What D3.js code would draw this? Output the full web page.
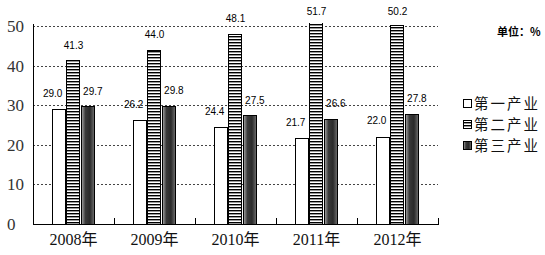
<!DOCTYPE html>
<html>
<head>
<meta charset="utf-8">
<script src="https://cdn.jsdelivr.net/npm/d3@7"></script>
<style>
  body { margin: 0; background: #fff; }
  svg { display: block; }
</style>
</head>
<body>
<div id="chart"></div>
<script>
// chart data
var years = ['2008年', '2009年', '2010年', '2011年', '2012年']
var seriesNames = ['第一产业', '第二产业', '第三产业']
var primary = [29.0, 26.2, 24.4, 21.7, 22.0]
var secondary = [41.3, 44.0, 48.1, 51.7, 50.2]
var tertiary = [29.7, 29.8, 27.5, 26.6, 27.8]
var yTicks = [0, 10, 20, 30, 40, 50]

var width = 545, height = 255
// plot box (window.top is reserved, so prefixed names)
var plotLeft = 33, plotRight = 438, plotBottom = 224, plotTop = 26

var svg = d3.select('#chart').append('svg')
    .attr('width', width)
    .attr('height', height)

var defs = svg.append('defs')

// horizontal stripes for the second series
var pat = defs.append('pattern')
    .attr('id', 'stripes')
    .attr('patternUnits', 'userSpaceOnUse')
    .attr('width', 6).attr('height', 3)
pat.append('rect').attr('width', 6).attr('height', 3).attr('fill', '#fff')
pat.append('rect').attr('width', 6).attr('height', 1.4).attr('fill', '#000')

// dark cylinder-ish gradient for the third series
var grad = defs.append('linearGradient')
    .attr('id', 'dark')
    .attr('x1', '0%').attr('x2', '100%').attr('y1', '0%').attr('y2', '0%')
grad.append('stop').attr('offset', '0%').attr('stop-color', '#a8a8a8')
grad.append('stop').attr('offset', '30%').attr('stop-color', '#3a3a3a')
grad.append('stop').attr('offset', '65%').attr('stop-color', '#2a2a2a')
grad.append('stop').attr('offset', '100%').attr('stop-color', '#707070')

defs.append('clipPath').attr('id', 'plotclip')
    .append('rect').attr('x', plotLeft).attr('y', plotTop - 3)
    .attr('width', plotRight - plotLeft).attr('height', plotBottom - plotTop + 3)

var fills = ['#fff', 'url(#stripes)', 'url(#dark)']

var x0 = d3.scaleBand().domain(years).range([plotLeft, plotRight])
var x1 = d3.scaleBand().domain(seriesNames).range([0, 43])
var groupOffset = (x0.bandwidth() - 43) / 2
var y = d3.scaleLinear().domain([0, 50]).range([plotBottom, plotTop])

// gridlines (dotted)
svg.append('g')
    .selectAll('line')
    .data(yTicks.filter(function (d) { return d > 0 }))
    .enter()
    .append('line')
    .attr('x1', plotLeft).attr('x2', plotRight)
    .attr('y1', function (d) { return Math.round(y(d)) + 0.5 })
    .attr('y2', function (d) { return Math.round(y(d)) + 0.5 })
    .attr('stroke', '#444')
    .attr('stroke-width', 1)
    .attr('stroke-dasharray', '2,2')

// y tick labels
svg.append('g')
    .selectAll('text')
    .data(yTicks)
    .enter()
    .append('text')
    .attr('x', 7)
    .attr('y', function (d) { return y(d) })
    .attr('dy', '0.35em')
    .style('font-family', '"Liberation Serif", "DejaVu Serif", serif')
    .style('font-size', '17px')
    .style('fill', '#333')
    .text(function (d) { return d })

// bars
var rows = years.map(function (yr, i) {
    return { year: yr, values: [primary[i], secondary[i], tertiary[i]] }
})

var groups = svg.append('g')
    .attr('clip-path', 'url(#plotclip)')
    .selectAll('g')
    .data(rows)
    .enter()
    .append('g')
    .attr('transform', function (d) { return 'translate(' + (x0(d.year) + groupOffset) + ',0)' })

groups.selectAll('rect')
    .data(function (d) { return d.values.map(function (v, k) { return { k: k, v: v } }) })
    .enter()
    .append('rect')
    .attr('x', function (d) { return Math.round(x1(seriesNames[d.k])) + 0.5 })
    .attr('y', function (d) { return Math.round(y(d.v)) + 0.5 })
    .attr('width', Math.round(x1.bandwidth()) - 1)
    .attr('height', function (d) { return plotBottom - Math.round(y(d.v)) })
    .attr('fill', function (d) { return fills[d.k] })
    .attr('stroke', '#000')
    .attr('stroke-width', 1)

// value labels
var labelDx = [-4, 0, 5]
var labelDy = [-16, -15, -15]
var labelAnchor = ['end', 'middle', 'middle']
var labelGroups = svg.append('g')
    .selectAll('g')
    .data(rows)
    .enter()
    .append('g')
    .attr('transform', function (d) { return 'translate(' + (x0(d.year) + groupOffset) + ',0)' })

labelGroups.selectAll('text')
    .data(function (d) { return d.values.map(function (v, k) { return { k: k, v: v } }) })
    .enter()
    .append('text')
    .attr('x', function (d) {
        var bx = x1(seriesNames[d.k])
        if (d.k === 0) return bx + x1.bandwidth() + labelDx[0]
        return bx + x1.bandwidth() / 2 + labelDx[d.k]
    })
    .attr('y', function (d) { return Math.max(y(d.v), plotTop) + labelDy[d.k] })
    .attr('dy', '0.35em')
    .attr('text-anchor', function (d) { return labelAnchor[d.k] })
    .style('font-family', '"Liberation Sans", Arial, sans-serif')
    .style('font-size', '10px')
    .style('fill', '#000')
    .text(function (d) { return d.v.toFixed(1) })

// axes lines
svg.append('line')
    .attr('x1', plotLeft + 0.5).attr('x2', plotLeft + 0.5)
    .attr('y1', plotTop - 2).attr('y2', plotBottom)
    .attr('stroke', '#000')
svg.append('line')
    .attr('x1', plotLeft).attr('x2', plotRight + 1)
    .attr('y1', plotBottom + 0.5).attr('y2', plotBottom + 0.5)
    .attr('stroke', '#000')

// x ticks at category boundaries (pointing up)
var boundaries = years.map(function (d) { return x0(d) + x0.bandwidth() })
svg.append('g')
    .selectAll('line')
    .data(boundaries)
    .enter()
    .append('line')
    .attr('x1', function (d) { return Math.round(d) + 0.5 })
    .attr('x2', function (d) { return Math.round(d) + 0.5 })
    .attr('y1', plotBottom - 6).attr('y2', plotBottom)
    .attr('stroke', '#000')

// x labels
svg.append('g')
    .selectAll('text')
    .data(years)
    .enter()
    .append('text')
    .attr('x', function (d) { return x0(d) + x0.bandwidth() / 2 })
    .attr('y', 239)
    .attr('dy', '0.35em')
    .attr('text-anchor', 'middle')
    .style('font-family', '"Liberation Serif", "Noto Sans CJK SC", serif')
    .style('font-size', '16px')
    .style('fill', '#111')
    .text(function (d) { return d })

// unit label
svg.append('text')
    .attr('x', 497).attr('y', 32)
    .attr('dy', '0.35em')
    .style('font-family', '"Noto Sans CJK SC", sans-serif')
    .style('font-size', '11px')
    .style('font-weight', 'bold')
    .text('单位：%')

// legend
var legend = svg.append('g')
    .selectAll('g')
    .data(seriesNames)
    .enter()
    .append('g')
    .attr('transform', function (d, i) { return 'translate(463,' + (104 + i * 21) + ')' })

legend.append('rect')
    .attr('x', 0.5).attr('y', -4.5)
    .attr('width', 8).attr('height', 8)
    .attr('fill', function (d, i) { return fills[i] })
    .attr('stroke', '#000')

legend.append('text')
    .attr('x', 11)
    .attr('y', 0)
    .attr('dy', '0.35em')
    .style('font-family', '"Noto Sans CJK SC", sans-serif')
    .style('font-size', '14.5px')
    .style('letter-spacing', '2px')
    .style('fill', '#111')
    .text(function (d) { return d })
</script>
</body>
</html>
